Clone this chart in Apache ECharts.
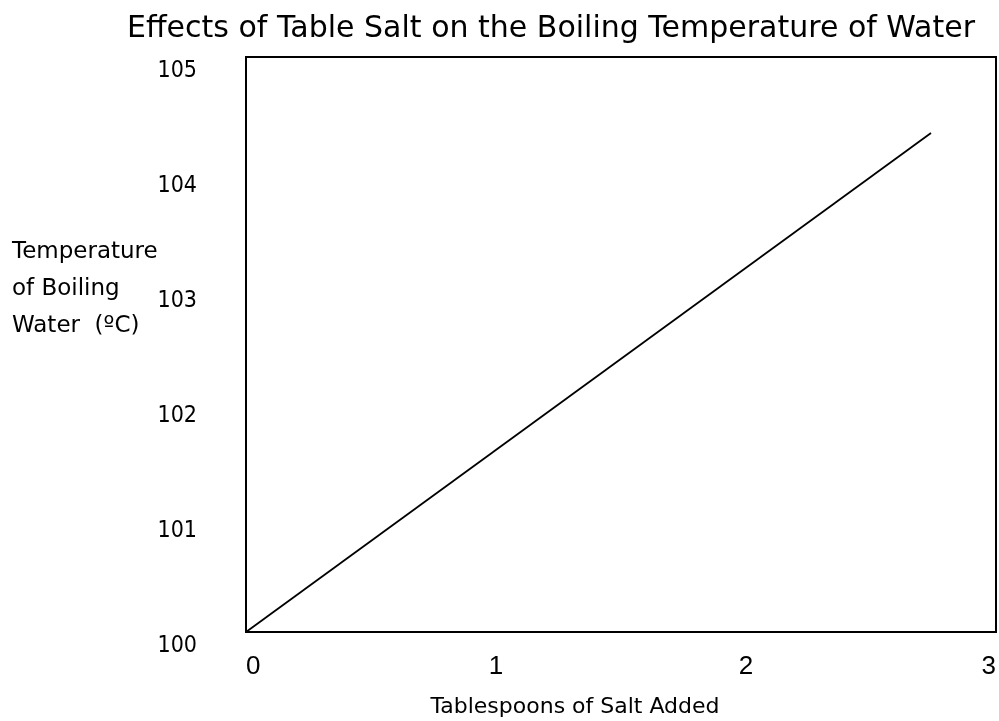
<!DOCTYPE html>
<html>
<head>
<meta charset="utf-8">
<script src="https://cdn.jsdelivr.net/npm/echarts@6/dist/echarts.min.js"></script>
<style>
  html, body { margin: 0; padding: 0; background: #fff; }
  #chart { width: 999px; height: 721px; }
</style>
</head>
<body>
<div id="chart"></div>
<script>
const titleText = 'Effects of Table Salt on the Boiling Temperature of Water';
const xName = 'Tablespoons of Salt Added';
const yNameLines = ['Temperature', 'of Boiling', 'Water  (\u00BAC)'];
const spoons = [0, 2.74];
const temps = [100, 104.34];

var chart = echarts.init(document.getElementById('chart'));
var option = {
    animation: false,
    title: {
        text: titleText,
        left: 122,
        top: 9,
        textStyle: {
            fontFamily: 'DejaVu Sans',
            fontWeight: 'normal',
            fontSize: 30,
            color: '#000'
        }
    },
    grid: {
        left: 246,
        right: 3,
        top: 57,
        bottom: 89,
        outerBoundsMode: 'none',
        show: true,
        borderColor: '#000',
        borderWidth: 2
    },
    graphic: [{
        type: 'text',
        left: 12,
        top: 234,
        style: {
            text: yNameLines.join('\n'),
            font: '23px "DejaVu Sans"',
            lineHeight: 37,
            fill: '#000'
        }
    }],
    xAxis: {
        type: 'value',
        min: 0,
        max: 3,
        interval: 1,
        name: xName,
        nameLocation: 'middle',
        nameGap: 64,
        nameTextStyle: { fontFamily: 'DejaVu Sans', fontSize: 22, color: '#000', padding: [0, 92, 0, 0] },
        axisLine: { lineStyle: { color: '#000', width: 2 } },
        axisTick: { show: false },
        splitLine: { show: false },
        axisLabel: {
            margin: 22,
            alignMinLabel: 'left',
            alignMaxLabel: 'right',
            fontFamily: 'Liberation Sans',
            fontSize: 26,
            color: '#000'
        }
    },
    yAxis: {
        type: 'value',
        min: 100,
        max: 105,
        interval: 1,
        axisLine: { show: true, lineStyle: { color: '#000', width: 2 } },
        axisTick: { show: false },
        splitLine: { show: false },
        axisLabel: {
            margin: 49,
            verticalAlign: 'top',
            padding: [3, 0, 0, 0],
            fontFamily: 'DejaVu Sans Condensed',
            fontSize: 23,
            color: '#000'
        }
    },
    series: [{
        type: 'line',
        data: spoons.map((s, i) => [s, temps[i]]),
        showSymbol: false,
        lineStyle: { color: '#000', width: 1.8 }
    }]
};
chart.setOption(option);
</script>
</body>
</html>
